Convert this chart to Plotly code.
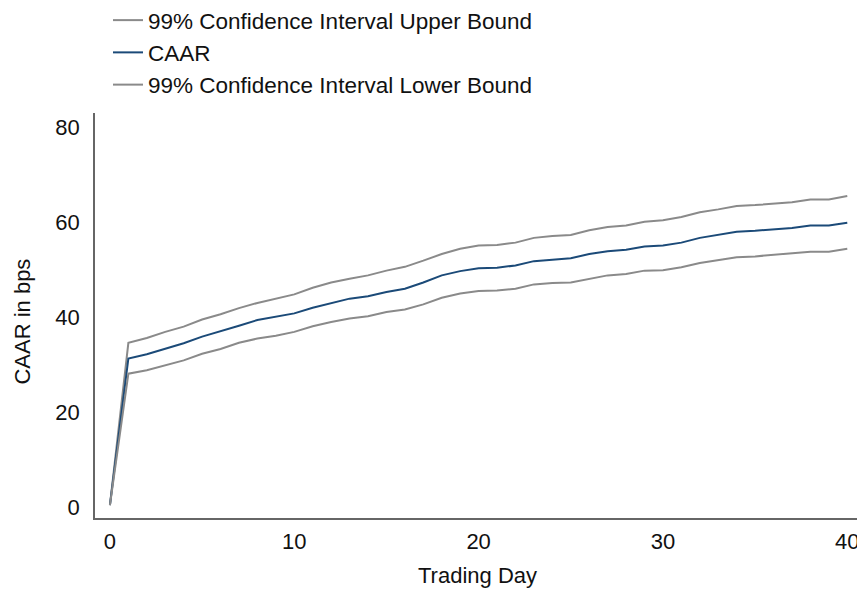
import plotly.graph_objects as go

days = list(range(0, 41))
caar = [0.4, 31.3, 32.2, 33.4, 34.5, 35.9, 37.0, 38.2, 39.4, 40.1, 40.8,
        42.0, 43.0, 43.9, 44.4, 45.3, 46.0, 47.3, 48.8, 49.7, 50.3,
        50.4, 50.9, 51.8, 52.1, 52.4, 53.3, 53.9, 54.2, 54.9, 55.1,
        55.7, 56.7, 57.4, 58.0, 58.2, 58.5, 58.8, 59.3, 59.3, 59.9]
upper = [0.4, 34.6, 35.6, 36.9, 38.0, 39.5, 40.6, 41.9, 43.0, 43.9, 44.8,
         46.2, 47.3, 48.1, 48.8, 49.8, 50.6, 51.9, 53.3, 54.4, 55.1,
         55.2, 55.7, 56.7, 57.1, 57.3, 58.3, 59.0, 59.3, 60.1, 60.4,
         61.1, 62.1, 62.7, 63.4, 63.6, 63.9, 64.2, 64.8, 64.8, 65.5]
lower = [0.4, 28.1, 28.8, 29.9, 30.9, 32.3, 33.3, 34.6, 35.5, 36.1, 36.9,
         38.1, 39.0, 39.7, 40.2, 41.1, 41.6, 42.7, 44.1, 45.0, 45.5,
         45.6, 46.0, 46.9, 47.2, 47.3, 48.1, 48.8, 49.1, 49.8, 49.9,
         50.5, 51.4, 52.0, 52.6, 52.8, 53.1, 53.4, 53.8, 53.8, 54.4]

x_ticks = [0, 10, 20, 30, 40]
y_ticks = [0, 20, 40, 60, 80]

gray = "#8a8a8a"
blue = "#1b4a78"

fig = go.Figure()
fig.add_trace(go.Scatter(x=days, y=upper, mode="lines", name="99% Confidence Interval Upper Bound",
                         line=dict(color=gray, width=2)))
fig.add_trace(go.Scatter(x=days, y=caar, mode="lines", name="CAAR",
                         line=dict(color=blue, width=2)))
fig.add_trace(go.Scatter(x=days, y=lower, mode="lines", name="99% Confidence Interval Lower Bound",
                         line=dict(color=gray, width=2)))

FAM = "Arial, Liberation Sans, sans-serif"
font = dict(family=FAM, size=22, color="#111111")
legend_font = dict(family=FAM, size=22.5, color="#111111")

W, H = 857, 585  # page adds an 8px body margin
PL, PT, PB, PR = 87, 105, 75, 5
plot_w, plot_h = W - PL - PR, H - PT - PB

fig.update_layout(
    width=W, height=H,
    paper_bgcolor="white", plot_bgcolor="white",
    font=font,
    margin=dict(l=PL, r=PR, t=PT, b=PB, autoexpand=False),
    showlegend=True,
    legend=dict(x=(100 - PL) / plot_w, xref="paper", xanchor="left",
                y=1 + (PT + 9) / plot_h, yref="paper", yanchor="top",
                traceorder="normal", font=legend_font, bgcolor="rgba(0,0,0,0)",
                itemwidth=30),
    xaxis=dict(range=[-0.81, 40.69], tickvals=x_ticks, showgrid=False, zeroline=False,
               showline=True, linecolor="#666666", linewidth=1.5, ticks="",
               tickfont=font, ticklabelstandoff=3),
    yaxis=dict(range=[-2.3, 83], tickvals=y_ticks, showgrid=False, zeroline=False,
               showline=True, linecolor="#666666", linewidth=1.5, ticks="",
               tickfont=font, ticklabelstandoff=9),
    annotations=[
        dict(text="Trading Day", xref="paper", yref="paper", x=0.5, y=-(567 - 510) / plot_h,
             xanchor="center", yanchor="middle", showarrow=False, font=font),
        dict(text="CAAR in bps", xref="paper", yref="paper", x=(15 - PL) / plot_w, y=0.485,
             xanchor="center", yanchor="middle", showarrow=False, textangle=-90, font=font),
    ],
)

fig.write_html("out.html")
